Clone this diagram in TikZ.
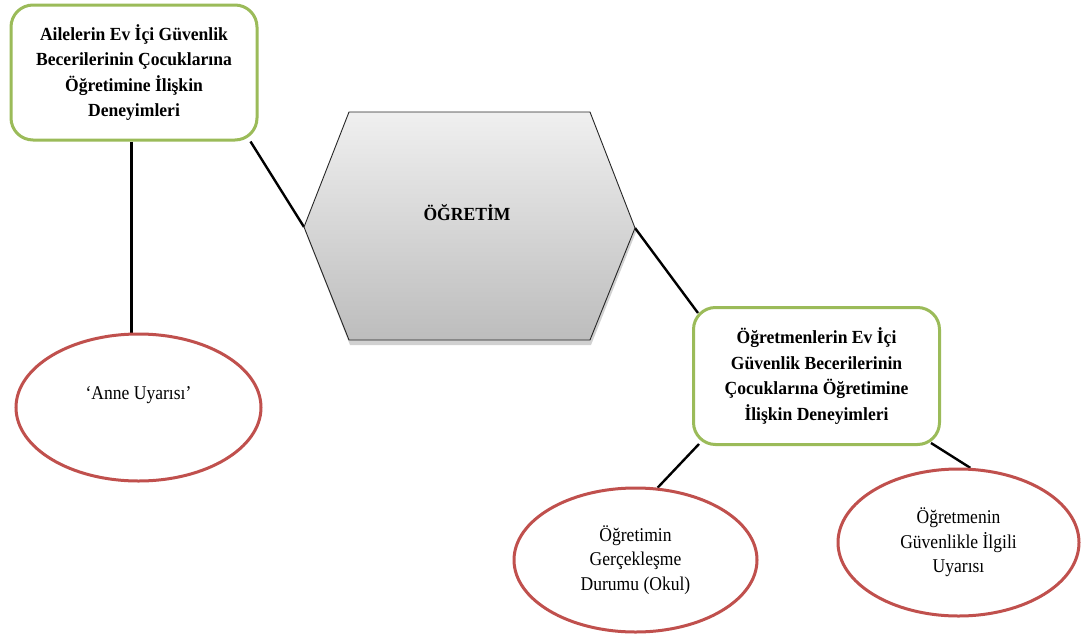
\documentclass[tikz,border=0pt]{standalone}
\usepackage{fontspec}
\setmainfont{Liberation Serif}
\newfontfamily\condreg{Liberation Serif}[FakeStretch=0.9]
\newfontfamily\condbold{Liberation Serif}[FakeStretch=0.95]
\usetikzlibrary{shapes.geometric,backgrounds}
\definecolor{boxgreen}{HTML}{9BBB59}
\definecolor{ellred}{HTML}{C0504D}
\begin{document}
\begin{tikzpicture}[x=1pt,y=-1pt,
  greenbox/.style={draw=boxgreen, line width=3pt, rounded corners=22pt, fill=white,
    minimum width=246pt, minimum height=135pt, align=center, inner sep=0pt,
    font=\condbold\fontsize{18.5}{25.5}\selectfont\bfseries},
  redell/.style={draw=ellred, line width=3pt, ellipse, fill=white, inner sep=0pt,
    align=center, font=\condreg\fontsize{19.5}{24.5}\selectfont},
  plain/.style={font=\condreg\fontsize{19.5}{24.5}\selectfont, inner sep=0pt},
  link/.style={draw=black, line width=2.4pt}]
\useasboundingbox (0,0) rectangle (1081,637);

% hexagon
\coordinate (hL) at (304,227);
\coordinate (hTL) at (349,112);
\coordinate (hTR) at (590,112);
\coordinate (hR) at (635,228);
\coordinate (hBR) at (590,340);
\coordinate (hBL) at (349,340);
\fill[black, opacity=0.18] (305,231) -- (350,116) -- (591,116) -- (636,232) -- (591,345) -- (350,345) -- cycle;
\shade[top color=black!6, bottom color=black!26, draw=black!85, line width=0.9pt]
  (hL) -- (hTL) -- (hTR) -- (hR) -- (hBR) -- (hBL) -- cycle;
\node[plain, font=\condbold\fontsize{18.5}{24.5}\selectfont\bfseries] (hex) at (467,213) {ÖĞRETİM};

% boxes
\node[greenbox] (b1) at (134,72.5)
  {Ailelerin Ev İçi Güvenlik\\Becerilerinin Çocuklarına\\Öğretimine İlişkin\\Deneyimleri};
\node[greenbox, minimum height=137pt] (b2) at (816.5,376)
  {Öğretmenlerin Ev İçi\\Güvenlik Becerilerinin\\Çocuklarına Öğretimine\\İlişkin Deneyimleri};

% ellipses
\node[redell, minimum width=245pt, minimum height=147pt] (e1) at (138.5,407.5) {};
\node[plain] (e1t) at (138.5,395) {‘Anne Uyarısı’};
\node[redell, minimum width=243pt, minimum height=144pt] (e2) at (635.5,560)
  {Öğretimin\\Gerçekleşme\\Durumu (Okul)};
\node[redell, minimum width=241pt, minimum height=147pt] (e3) at (958.5,542.5)
  {Öğretmenin\\Güvenlikle İlgili\\Uyarısı};

% connectors
\begin{scope}[on background layer]
\fill[white] (0,0) rectangle (1081,637);
\draw[link] ([xshift=-2.5pt]b1.south) -- ([xshift=-2.5pt]b1.south |- e1.north);
\draw[link] ([xshift=-8pt]b1.south east) -- (hL);
\draw[link] (hR) -- ([shift={(6pt,-7pt)}]b2.north west);
\draw[link] ([shift={(7pt,2pt)}]b2.south west) -- (e2.73);
\draw[link] ([shift={(-10pt,3pt)}]b2.south east) -- (e3.81);
\end{scope}
\end{tikzpicture}
\end{document}
